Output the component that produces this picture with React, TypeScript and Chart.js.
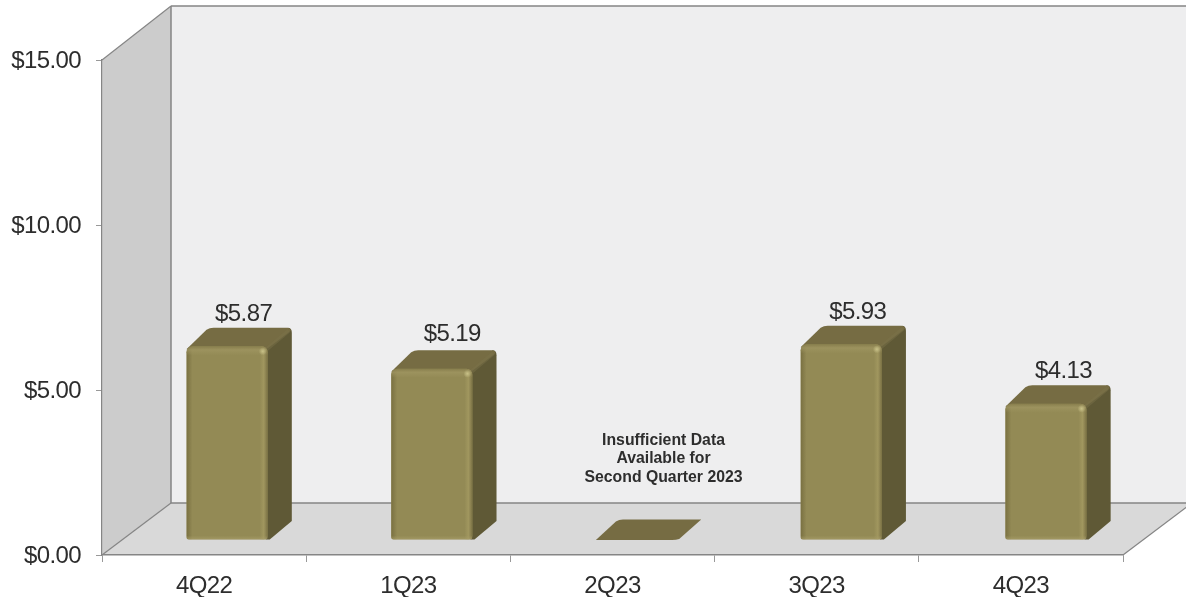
import React, { useEffect, useRef } from "react";
import { Chart, registerables } from "chart.js";

Chart.register(...registerables);

const quarters = ["4Q22", "1Q23", "2Q23", "3Q23", "4Q23"];
const values = [5.87, 5.19, 0, 5.93, 4.13];
const valueLabels = ["$5.87", "$5.19", "", "$5.93", "$4.13"];
const noteLines = ["Insufficient Data", "Available for", "Second Quarter 2023"];
const noteQuarter = 2;
const yMax = 15;
const yStep = 5;

const FONT = '"Liberation Sans", Arial, sans-serif';
const TEXT = "#2d2d2d";
const EDGE = "#858585";
const LABEL_SIZE = 24;
const LABEL_TRACKING = "-0.6px";

// Projection of the box: the back wall sits up and to the right of the front plane.
const WALL_DX = 69;
const WALL_DY = 53;
// Bars stand part-way into the floor, spread slightly along it, and have their own depth.
const BAR_DX = 22.5;
const BAR_DY = 15;
const BAR_SPREAD = 1.0025;
const DEPTH_DX = 24;
const DEPTH_DY = 18.5;
const LABEL_NUDGE = [[0, 0], [4, 3], [0, 0], [0, 0], [1, 1]];

function poly(ctx: CanvasRenderingContext2D, pts: number[][], fill: string) {
  ctx.beginPath();
  pts.forEach(([x, y], i) => (i ? ctx.lineTo(x, y) : ctx.moveTo(x, y)));
  ctx.closePath();
  ctx.fillStyle = fill;
  ctx.fill();
}

function line(ctx: CanvasRenderingContext2D, a: number[], b: number[], width: number) {
  ctx.beginPath();
  ctx.moveTo(a[0], a[1]);
  ctx.lineTo(b[0], b[1]);
  ctx.strokeStyle = EDGE;
  ctx.lineWidth = width;
  ctx.stroke();
}

// Left wall, back wall and floor behind everything else.
const roomPlugin = {
  id: "room",
  beforeDraw(chart: any) {
    const { ctx, chartArea: { left, right, top, bottom } } = chart;
    const backTop = top - WALL_DY - 1;
    const backBottom = bottom - WALL_DY + 1;
    ctx.save();
    poly(ctx, [[left + WALL_DX, backTop], [right + WALL_DX, backTop], [right + WALL_DX, backBottom], [left + WALL_DX, backBottom]], "#eeeeef");
    poly(ctx, [[left, top], [left + WALL_DX, backTop], [left + WALL_DX, backBottom], [left, bottom]], "#cccccc");
    poly(ctx, [[left, bottom], [left + WALL_DX, backBottom], [right + WALL_DX, backBottom], [right, bottom]], "#d9d9d9");
    line(ctx, [left + WALL_DX, backTop], [right + WALL_DX, backTop], 1.5);
    line(ctx, [left + WALL_DX, backTop], [left + WALL_DX, backBottom], 1.5);
    line(ctx, [left + WALL_DX, backBottom], [right + WALL_DX, backBottom], 1.5);
    line(ctx, [left, top], [left + WALL_DX, backTop], 1.2);
    line(ctx, [left, bottom], [left + WALL_DX, backBottom], 1.2);
    line(ctx, [right, bottom], [right + WALL_DX, backBottom], 1.2);
    ctx.restore();
    // Tick labels inherit this tracking from the context.
    (ctx as any).letterSpacing = LABEL_TRACKING;
  },
};

function drawBarDepth(ctx: CanvasRenderingContext2D, x0: number, x1: number, yTop: number, yBase: number) {
  const flat = yBase - yTop < 1;
  const backTop = yTop - DEPTH_DY - (flat ? 2 : 0);
  const r = 5;

  // Side face
  if (!flat) {
    ctx.beginPath();
    ctx.moveTo(x1 - 2, yTop + 2);
    ctx.lineTo(x1 + DEPTH_DX - 4, backTop);
    ctx.quadraticCurveTo(x1 + DEPTH_DX, backTop, x1 + DEPTH_DX, backTop + r);
    ctx.lineTo(x1 + DEPTH_DX, yBase - DEPTH_DY);
    ctx.lineTo(x1 + 2, yBase);
    ctx.lineTo(x1 - 2, yBase);
    ctx.closePath();
    ctx.fillStyle = "#5f5936";
    ctx.fill();
  }

  // Top face
  ctx.beginPath();
  ctx.moveTo(x0, yTop + (flat ? 0 : 3));
  ctx.lineTo(x0 + DEPTH_DX - 4, backTop + 2);
  ctx.quadraticCurveTo(x0 + DEPTH_DX - 1, backTop, x0 + DEPTH_DX + 3, backTop);
  ctx.lineTo(x1 + DEPTH_DX - (flat ? 0 : 5), backTop);
  if (!flat) ctx.quadraticCurveTo(x1 + DEPTH_DX - 1, backTop, x1 + DEPTH_DX - 1, backTop + 3);
  ctx.lineTo(x1 + (flat ? 2 : 0), yTop - (flat ? 1 : -2));
  if (flat) ctx.quadraticCurveTo(x1 - 1, yTop, x1 - 5, yTop);
  ctx.closePath();
  ctx.fillStyle = "#766c43";
  ctx.fill();

  // Soft ridge where the top meets the side
  if (!flat) {
    ctx.beginPath();
    ctx.moveTo(x1 - 1, yTop + 3);
    ctx.lineTo(x1 + DEPTH_DX - 3, backTop + 3);
    ctx.strokeStyle = "rgba(125,116,75,0.45)";
    ctx.lineWidth = 4;
    ctx.stroke();
  }
}

function drawBevel(ctx: CanvasRenderingContext2D, x0: number, x1: number, yTop: number, yBase: number) {
  const h = yBase - yTop;
  if (h < 1) return;
  ctx.save();
  ctx.beginPath();
  ctx.roundRect(x0, yTop, x1 - x0, h, [6, 6, 2, 4]);
  ctx.clip();

  const left = ctx.createLinearGradient(x0, 0, x0 + 6, 0);
  left.addColorStop(0, "rgba(112,103,58,0.75)");
  left.addColorStop(1, "rgba(112,103,58,0)");
  ctx.fillStyle = left;
  ctx.fillRect(x0, yTop, 6, h);

  const right = ctx.createLinearGradient(x1 - 8, 0, x1, 0);
  right.addColorStop(0, "rgba(165,155,98,0)");
  right.addColorStop(0.5, "rgba(165,155,98,0.75)");
  right.addColorStop(0.8, "rgba(135,125,78,0.75)");
  right.addColorStop(1, "rgba(110,102,60,0.75)");
  ctx.fillStyle = right;
  ctx.fillRect(x1 - 8, yTop, 8, h);

  const top = ctx.createLinearGradient(0, yTop, 0, yTop + 9);
  top.addColorStop(0, "rgba(132,122,74,0.75)");
  top.addColorStop(0.4, "rgba(160,150,98,0.7)");
  top.addColorStop(1, "rgba(160,150,98,0)");
  ctx.fillStyle = top;
  ctx.fillRect(x0, yTop, x1 - x0, 9);

  const bottom = ctx.createLinearGradient(0, yBase - 4, 0, yBase);
  bottom.addColorStop(0, "rgba(165,155,100,0)");
  bottom.addColorStop(1, "rgba(170,160,108,0.7)");
  ctx.fillStyle = bottom;
  ctx.fillRect(x0, yBase - 4, x1 - x0, 4);

  const glint = ctx.createRadialGradient(x1 - 5, yTop + 5, 0, x1 - 5, yTop + 5, 4);
  glint.addColorStop(0, "rgba(205,198,140,0.9)");
  glint.addColorStop(1, "rgba(205,198,140,0)");
  ctx.fillStyle = glint;
  ctx.fillRect(x1 - 9, yTop + 1, 8, 8);
  ctx.restore();
}

// Shifts the library's bars into the room and wraps each one in its 3D faces.
const barBoxPlugin = {
  id: "barBox",
  beforeDatasetDraw(chart: any, args: any) {
    const { ctx } = chart;
    ctx.save();
    ctx.transform(BAR_SPREAD, 0, 0, 1, BAR_DX, -BAR_DY);
    args.meta.data.forEach((el: any) => {
      const { x, y, base, width } = el.getProps(["x", "y", "base", "width"], true);
      drawBarDepth(ctx, x - width / 2, x + width / 2, y, base);
    });
  },
  afterDatasetDraw(chart: any, args: any) {
    const { ctx } = chart;
    args.meta.data.forEach((el: any) => {
      const { x, y, base, width } = el.getProps(["x", "y", "base", "width"], true);
      drawBevel(ctx, x - width / 2, x + width / 2, y, base);
    });
    ctx.restore();
  },
};

const textPlugin = {
  id: "valueText",
  afterDatasetsDraw(chart: any) {
    const { ctx, scales } = chart;
    const bars = chart.getDatasetMeta(0).data;
    ctx.save();
    ctx.textAlign = "center";
    ctx.textBaseline = "middle";
    ctx.fillStyle = TEXT;
    ctx.font = `${LABEL_SIZE}px ${FONT}`;
    valueLabels.forEach((label, i) => {
      if (!label) return;
      const { x, y } = bars[i].getProps(["x", "y"], true);
      const [nx, ny] = LABEL_NUDGE[i];
      ctx.fillText(label, x * BAR_SPREAD + BAR_DX + 16.5 + nx, y - BAR_DY - DEPTH_DY - 13 - ny);
    });
    ctx.font = `bold 15.8px ${FONT}`;
    (ctx as any).letterSpacing = "0px";
    const cx = scales.x.getPixelForValue(noteQuarter) + 51;
    const cy = scales.y.getPixelForValue(0) - 96;
    noteLines.forEach((text, i) => ctx.fillText(text, cx, cy + (i - 1) * 18.5));
    ctx.restore();
  },
};

export default function App() {
  const ref = useRef<HTMLCanvasElement>(null);

  useEffect(() => {
    document.body.style.margin = "0";
    const chart = new Chart(ref.current!, {
      type: "bar",
      data: {
        labels: quarters,
        datasets: [
          {
            data: values,
            backgroundColor: "#938a55",
            borderRadius: { topLeft: 6, topRight: 6, bottomLeft: 2, bottomRight: 4 },
            borderSkipped: false,
            barPercentage: 0.397,
            categoryPercentage: 1,
          },
        ],
      },
      options: {
        responsive: false,
        animation: false,
        layout: { padding: { top: 60, right: 63, left: 0, bottom: 0 } },
        plugins: { legend: { display: false }, tooltip: { enabled: false } },
        scales: {
          x: {
            afterFit: (s: any) => { s.height = 42; },
            grid: { drawOnChartArea: false, drawTicks: true, tickLength: 7, color: "#999999" },
            border: { color: EDGE, width: 1.5 },
            ticks: { color: TEXT, font: { family: FONT, size: LABEL_SIZE }, padding: 10 },
          },
          y: {
            min: 0,
            max: yMax,
            afterFit: (s: any) => { s.width = 102; },
            grid: { drawOnChartArea: false, drawTicks: true, tickLength: 6, color: "#999999" },
            border: { color: EDGE, width: 1.2 },
            ticks: {
              stepSize: yStep,
              color: TEXT,
              font: { family: FONT, size: LABEL_SIZE },
              padding: 15,
              labelOffset: 1,
              callback: (v: any) => `$${Number(v).toFixed(2)}`,
            },
          },
        },
      },
      plugins: [roomPlugin, barBoxPlugin, textPlugin],
    } as any);
    return () => chart.destroy();
  }, []);

  return <canvas ref={ref} width={1186} height={597} style={{ display: "block" }} />;
}
